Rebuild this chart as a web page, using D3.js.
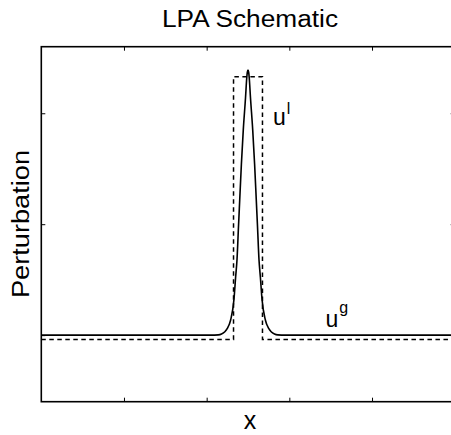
<!DOCTYPE html>
<html>
<head>
<meta charset="utf-8">
<script src="https://cdn.jsdelivr.net/npm/d3@7"></script>
<style>
  body { margin: 0; background: #fff; }
  text { font-family: "Liberation Sans", Arial, sans-serif; fill: #000; }
</style>
</head>
<body>
<div id="chart"></div>
<script>
// values
const xTicks = [1, 2, 3, 4];
const yTicks = [0, 0.5, 1];

// solid curve u^g (smooth pulse)
const solidX = [0, 2.05, 2.14, 2.18, 2.22, 2.25, 2.29, 2.33, 2.35, 2.367, 2.385, 2.40, 2.42, 2.443, 2.47, 2.485, 2.492, 2.5,
                2.508, 2.515, 2.53, 2.557, 2.58, 2.60, 2.615, 2.633, 2.65, 2.67, 2.71, 2.75, 2.78, 2.82, 2.86, 2.95, 5];
const solidY = [0, 0, 0.001, 0.005, 0.015, 0.03, 0.068, 0.16, 0.26, 0.34, 0.49, 0.61, 0.77, 0.925, 1.07, 1.16, 1.185, 1.195,
                1.185, 1.16, 1.07, 0.925, 0.77, 0.61, 0.49, 0.34, 0.26, 0.16, 0.068, 0.03, 0.015, 0.005, 0.001, 0, 0];

// dashed box u^l
const dashX = [0, 2.325, 2.325, 2.675, 2.675, 5];
const dashY = [-0.02, -0.02, 1.165, 1.165, -0.02, -0.02];

const W = 451, H = 435;
const mLeft = 41.3, mRight = 454.7, mTop = 46.7, mBottom = 401.7;

const svg = d3.select('#chart').append('svg')
    .attr('width', W)
    .attr('height', H);

const x = d3.scaleLinear().domain([0, 5]).range([mLeft, mRight]);
const y = d3.scaleLinear().domain([-0.3, 1.3]).range([mBottom, mTop]);

// ticks on all four sides, pointing inward
svg.append('g')
    .attr('transform', `translate(0,${mBottom})`)
    .call(d3.axisBottom(x).tickValues(xTicks).tickSizeInner(-4).tickSizeOuter(0).tickFormat(''));
svg.append('g')
    .attr('transform', `translate(0,${mTop})`)
    .call(d3.axisTop(x).tickValues(xTicks).tickSizeInner(-4).tickSizeOuter(0).tickFormat(''));
svg.append('g')
    .attr('transform', `translate(${mLeft},0)`)
    .call(d3.axisLeft(y).tickValues(yTicks).tickSizeInner(-4).tickSizeOuter(0).tickFormat(''));
svg.append('g')
    .attr('transform', `translate(${mRight},0)`)
    .call(d3.axisRight(y).tickValues(yTicks).tickSizeInner(-4).tickSizeOuter(0).tickFormat(''));
svg.selectAll('.domain').remove();
svg.selectAll('.tick line').attr('stroke', '#000').attr('stroke-width', 1);

const line = d3.line()
    .x(d => x(d[0]))
    .y(d => y(d[1]));

svg.append('path')
    .datum(dashX.map((v, i) => [v, dashY[i]]))
    .attr('fill', 'none')
    .attr('stroke', '#000')
    .attr('stroke-width', 1.5)
    .attr('stroke-dasharray', '4.5,3.5')
    .attr('d', line);

svg.append('path')
    .datum(solidX.map((v, i) => [v, solidY[i]]))
    .attr('fill', 'none')
    .attr('stroke', '#000')
    .attr('stroke-width', 1.6)
    .attr('d', line.curve(d3.curveMonotoneX));

// frame
svg.append('rect')
    .attr('x', mLeft).attr('y', mTop)
    .attr('width', mRight - mLeft).attr('height', mBottom - mTop)
    .attr('fill', 'none')
    .attr('stroke', '#000')
    .attr('stroke-width', 1.6);

// labels
svg.append('text')
    .attr('x', 162).attr('y', 27)
    .attr('font-size', 23)
    .attr('textLength', 176)
    .attr('lengthAdjust', 'spacingAndGlyphs')
    .text('LPA Schematic');

svg.append('text')
    .attr('transform', 'translate(28.5,298) rotate(-90)')
    .attr('font-size', 23)
    .attr('textLength', 148)
    .attr('lengthAdjust', 'spacingAndGlyphs')
    .text('Perturbation');

svg.append('text')
    .attr('x', 250).attr('y', 428.5)
    .attr('text-anchor', 'middle')
    .attr('font-size', 25)
    .text('x');

const ul = svg.append('text')
    .attr('x', 273).attr('y', 125)
    .attr('font-size', 23);
ul.append('tspan').text('u');
ul.append('tspan').attr('font-size', 16).attr('dx', 1).attr('dy', -11.5).text('l');

const ug = svg.append('text')
    .attr('x', 325.5).attr('y', 326.7)
    .attr('font-size', 23);
ug.append('tspan').text('u');
ug.append('tspan').attr('font-size', 16).attr('dx', 1).attr('dy', -13.5).text('g');
</script>
</body>
</html>
